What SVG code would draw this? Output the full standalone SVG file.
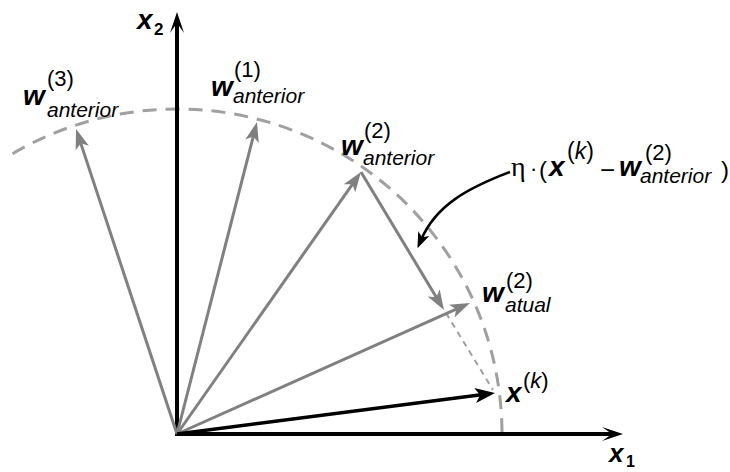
<svg xmlns="http://www.w3.org/2000/svg" width="730" height="472" viewBox="0 0 730 472">
<style>
.vec{stroke:#808080;stroke-width:3;fill:none}
.ax{stroke:#000;stroke-width:4;fill:none}
.arc{stroke:#a0a0a0;stroke-width:3;fill:none;stroke-dasharray:14 9}
.thin{stroke:#a0a0a0;stroke-width:2;fill:none;stroke-dasharray:6 5}
text{font-family:"Liberation Sans",Arial,sans-serif;fill:#000}
.bw{font-size:28px;font-weight:bold;font-style:italic}
.sup{font-size:22px}
.sub{font-size:21px;font-style:italic}
.axn{font-size:17px;font-weight:bold}
</style>
<defs>
<marker id="ag" markerUnits="userSpaceOnUse" viewBox="-22 -8 24 16" markerWidth="24" markerHeight="16" refX="-12" refY="0" orient="auto">
<path d="M0,0 L-20,-7 L-15,0 L-20,7 Z" fill="#808080"/>
</marker>
<marker id="ab" markerUnits="userSpaceOnUse" viewBox="-22 -8 24 16" markerWidth="24" markerHeight="16" refX="-12" refY="0" orient="auto">
<path d="M0,0 L-20,-7.5 L-15,0 L-20,7.5 Z" fill="#000"/>
</marker>
<marker id="aax" markerUnits="userSpaceOnUse" viewBox="-24 -9 26 18" markerWidth="26" markerHeight="18" refX="-8" refY="0" orient="auto">
<path d="M0,0 L-21,-7 L-11,0 L-21,7 Z" fill="#000"/>
</marker>
<marker id="ac" markerUnits="userSpaceOnUse" viewBox="-20 -8 22 16" markerWidth="22" markerHeight="16" refX="-9" refY="0" orient="auto">
<path d="M0,0 L-16,-6 L-12,0 L-16,6 Z" fill="#000"/>
</marker>
</defs>

<g id="circles">
<path class="arc" d="M12.5,153.7 A325,325 0 0 1 502,434"/>
<path class="thin" d="M446,313 L493,390"/>
</g>

<g id="axes">
<line class="ax" x1="177" y1="436" x2="177" y2="20" marker-end="url(#aax)"/>
<line class="ax" x1="175" y1="434" x2="615" y2="434" marker-end="url(#aax)"/>
<g id="x2label"><text class="bw" x="137" y="29" font-size="26">x</text><text class="axn" x="154" y="35">2</text></g>
<g id="x1label"><text class="bw" x="609" y="462" style="font-size:26px">x</text><text class="axn" x="626" y="467" style="font-size:16px">1</text></g>
</g>

<g id="connectors">
<line class="vec" x1="177" y1="434" x2="79.8" y2="140.4" marker-end="url(#ag)"/>
<line class="vec" x1="177" y1="434" x2="254" y2="133.6" marker-end="url(#ag)"/>
<line class="vec" x1="177" y1="434" x2="354.1" y2="181.8" marker-end="url(#ag)"/>
<line class="vec" x1="177" y1="434" x2="459" y2="307.9" marker-end="url(#ag)"/>
<line class="vec" x1="361" y1="172" x2="437.8" y2="299.7" marker-end="url(#ag)"/>
<line stroke="#000" stroke-width="3.5" x1="177" y1="434" x2="483.1" y2="394.5" marker-end="url(#ab)"/>
<path d="M510,172 C468,188 436,205 421,240" stroke="#000" stroke-width="2.5" fill="none" marker-end="url(#ac)"/>
</g>

<g id="w3">
<text class="bw" x="23" y="105">w</text><text class="sup" x="47" y="86">(3)</text><text class="sub" x="47" y="117">anterior</text>
</g>
<g id="w1">
<text class="bw" x="211" y="96">w</text><text class="sup" x="234" y="77">(1)</text><text class="sub" x="233" y="103">anterior</text>
</g>
<g id="w2">
<text class="bw" x="341" y="155">w</text><text class="sup" x="364" y="138">(2)</text><text class="sub" x="363" y="165">anterior</text>
</g>
<g id="watual">
<text class="bw" x="482" y="302">w</text><text class="sup" x="506" y="288">(2)</text><text class="sub" x="505" y="312">atual</text>
</g>
<g id="xk">
<text class="bw" x="506" y="402">x</text><text class="sup" x="523" y="388">(<tspan font-style="italic">k</tspan>)</text>
</g>
<g id="update">
<text x="511" y="176" style="font-family:'Liberation Serif','DejaVu Serif',serif;font-size:28px">η</text>
<text x="530" y="176" style="font-size:22px">·</text>
<text x="539" y="178" style="font-size:24px">(</text>
<text class="bw" x="549" y="176">x</text>
<text class="sup" x="567" y="159" style="font-size:23px">(<tspan font-style="italic">k</tspan>)</text>
<text x="600" y="179" style="font-size:26px">−</text>
<text class="bw" x="619" y="176">w</text>
<text class="sup" x="645" y="160">(2)</text>
<text class="sub" x="640" y="183">anterior</text>
<text x="721" y="178" style="font-size:24px">)</text>
</g>
</svg>
